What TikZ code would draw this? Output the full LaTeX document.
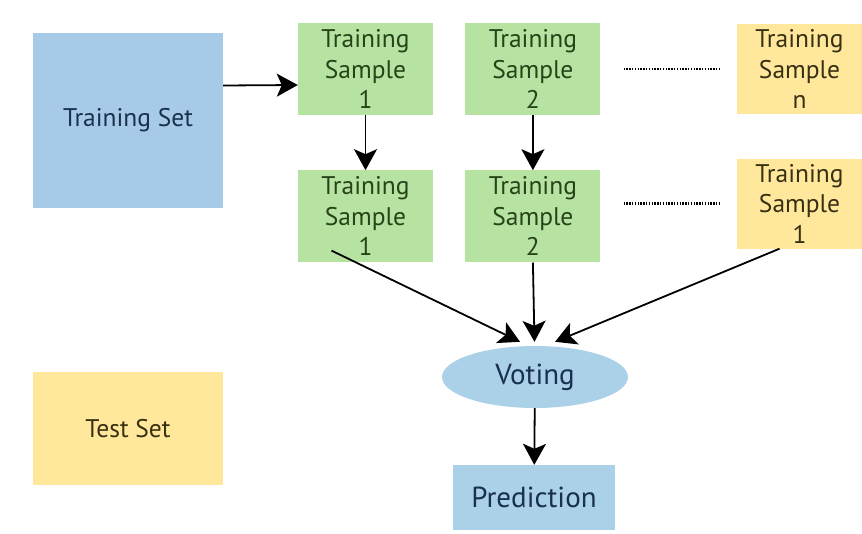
\documentclass[tikz,border=0pt]{standalone}
\usepackage{fontspec}
\setmainfont{PT Sans}
\usepackage{xcolor}
\usepackage{tikz}
\usetikzlibrary{arrows.meta,positioning,shapes.geometric}
\definecolor{setblue}{HTML}{A7CBE6}
\definecolor{voteblue}{HTML}{AAD1E8}
\definecolor{samplegreen}{HTML}{B6E3A1}
\definecolor{sampleyellow}{HTML}{FFE89C}
\definecolor{navytext}{HTML}{1A3050}
\definecolor{greentext}{HTML}{264418}
\definecolor{browntext}{HTML}{383012}

\begin{document}
\begin{tikzpicture}[x=1pt, y=-1pt, node distance=32pt, every node/.style={align=center, inner sep=0pt, font=\fontsize{25.5}{30.5}\selectfont}, >={Stealth[length=21pt,width=23pt,inset=5pt]},
  setbox/.style={fill=setblue, text=navytext, minimum width=190pt},
  greenbox/.style={fill=samplegreen, text=greentext, minimum width=135pt, minimum height=92pt},
  yellowbox/.style={fill=sampleyellow, text=browntext, minimum width=125pt, minimum height=90pt},
  bigtext/.style={font=\fontsize{29}{34}\selectfont},
  arr/.style={->, line width=1.8pt},
  dots/.style={line width=2.4pt, dash pattern=on 1.4pt off 1.4pt, shorten <=23pt, shorten >=17pt}]
\useasboundingbox[fill=white] (0,0) rectangle (862,533);
\node[setbox, minimum height=175pt] (trainset) at (128,120.5) {Training Set};
\node[setbox, minimum height=113pt, fill=sampleyellow, text=browntext] (testset) at (128,428.5) {Test Set};
\node[greenbox] (s1a) at (365.5,69) {Training\\Sample\\1};
\node[greenbox, right=of s1a] (s2a) {Training\\Sample\\2};
\node[greenbox, below=55pt of s1a] (s1b) {Training\\Sample\\1};
\node[greenbox, below=55pt of s2a] (s2b) {Training\\Sample\\2};
\node[yellowbox] (sna) at (799.5,69) {Training\\Sample\\n};
\node[yellowbox] (s1c) at (799.5,203.5) {Training\\Sample\\1};
\node[ellipse, bigtext, fill=voteblue, text=navytext, minimum width=186pt, minimum height=62pt] (voting) at (535,377) {Voting};
\node[bigtext, fill=voteblue, text=navytext, minimum width=162pt, minimum height=65pt] (predict) at (534,497.5) {Prediction};
\draw[arr] ([yshift=35pt]trainset.east) -- ([yshift=-16pt]s1a.west);
\draw[arr] (s1a) -- (s1b);
\draw[arr] (s2a) -- (s2b);
\draw[dots] (s2a) -- (sna);
\draw[dots] (s2b.east |- s1c) -- (s1c);
\draw[arr] ([xshift=-34pt,yshift=12pt]s1b.south) -- ([xshift=-15pt,yshift=4pt]voting.north);
\draw[arr] (s2b.south) -- ([xshift=-0.5pt,yshift=4pt]voting.north);
\draw[arr] ([xshift=-20pt]s1c.south) -- ([xshift=20pt,yshift=4pt]voting.north);
\draw[arr] (voting) -- (predict);
\end{tikzpicture}
\end{document}
